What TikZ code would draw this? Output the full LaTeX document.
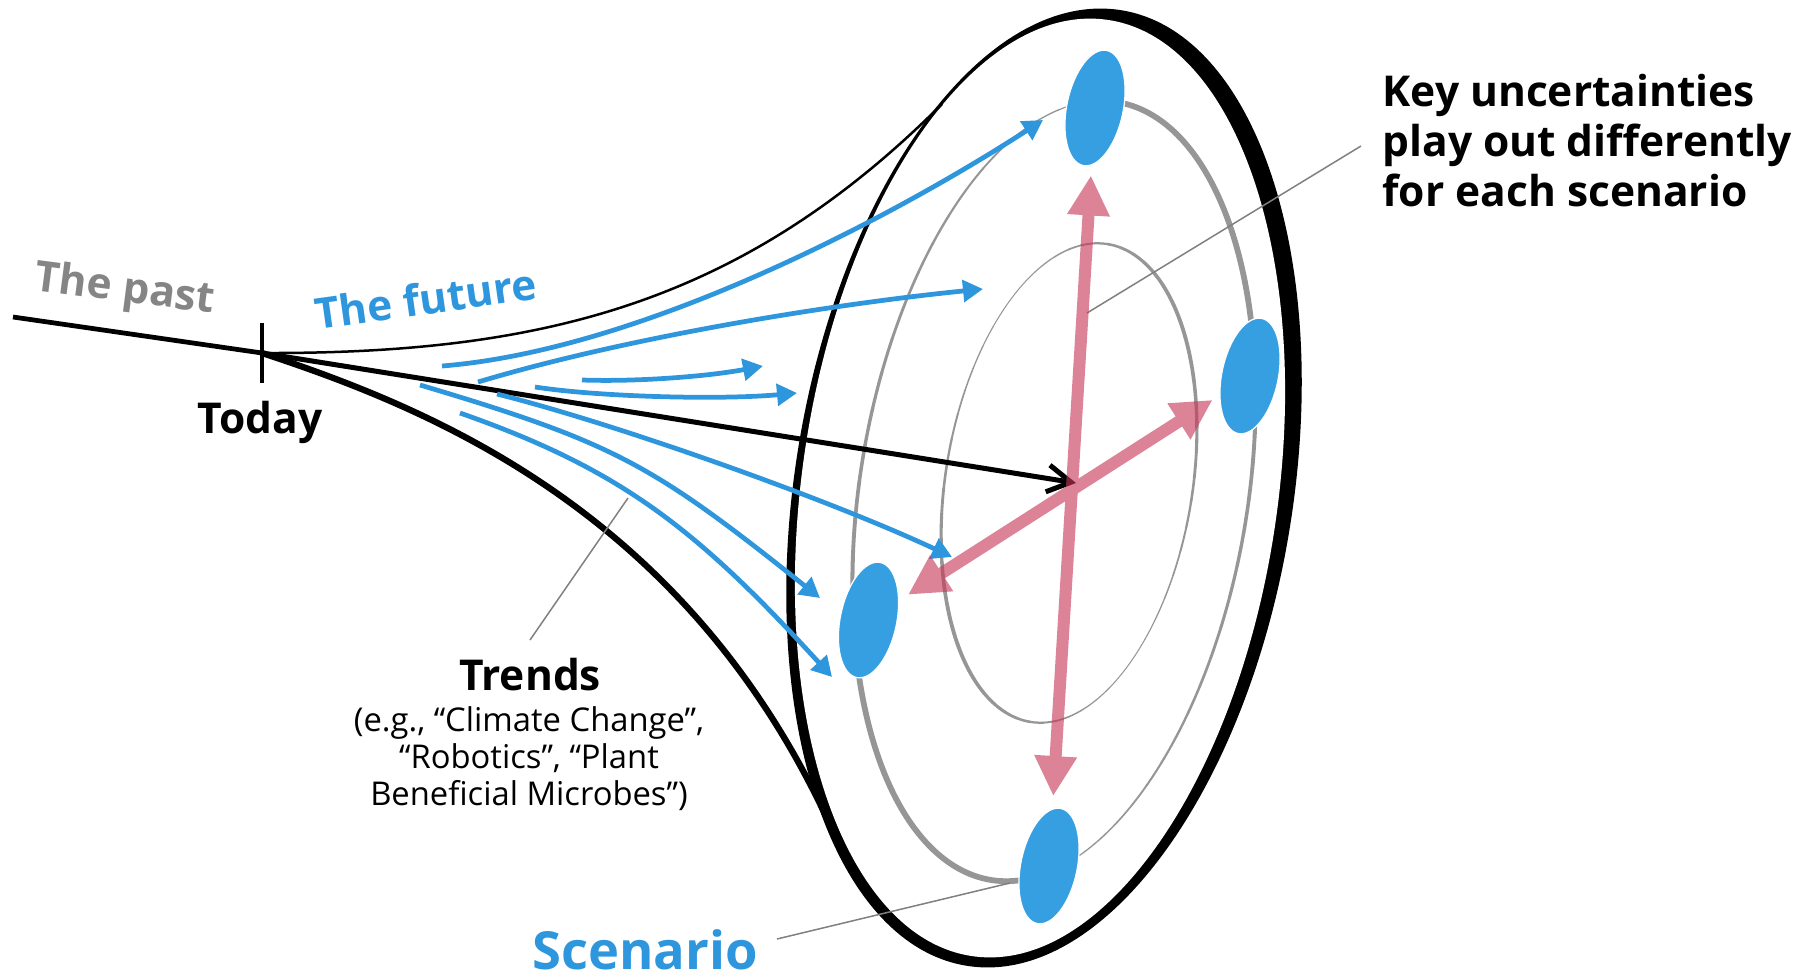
\documentclass[tikz,border=0pt]{standalone}
\usepackage{fontspec}
\setmainfont{Open Sans}
\usetikzlibrary{arrows.meta,shapes.geometric}
\definecolor{trendblue}{RGB}{46,150,221}
\definecolor{dotblue}{RGB}{53,159,226}
\definecolor{ringgray}{RGB}{150,150,150}
\definecolor{leadgray}{RGB}{128,128,128}
\definecolor{pastgray}{RGB}{133,133,133}
\definecolor{uncert}{RGB}{200,55,90}
\begin{document}
\begin{tikzpicture}[x=0.4pt, y=-0.4pt,
  trend/.style={trendblue, line width=1.9pt, -{Triangle[width=8.6pt,length=8pt]}},
  scen/.style={ellipse, fill=dotblue, draw=white, line width=0.5pt,
    minimum width=22.6pt, minimum height=47pt, inner sep=0pt, rotate=-11.6},
  uarrow/.style={uncert, line width=4.8pt,
    {Triangle[width=16pt,length=16pt]}-{Triangle[width=16pt,length=16pt]}},
  lead/.style={leadgray, line width=0.6pt},
  txt/.style={font=\bfseries\fontsize{17}{20}\selectfont, inner sep=0pt},
]
\useasboundingbox (0,0) rectangle (1800,980);

% outer rim: black ellipse with a slightly turned white ellipse inside
\begin{scope}[shift={(1044,488)}, rotate=-9.2]
  \fill (0,0) ellipse [x radius=249, y radius=484];
\end{scope}
\begin{scope}[shift={(1040,488)}, rotate=-8.2]
  \fill[white] (0,0) ellipse [x radius=238, y radius=473];
\end{scope}

% time line and the funnel of futures
\coordinate (past) at (13,317);
\coordinate (today) at (262,353);
\coordinate (rimUpper) at (942,104);
\coordinate (rimLower) at (835,836);
\draw[line width=1.9pt] (past) -- (today);
\draw[line width=1pt] (today) .. controls (542,354) and (742,304) .. (rimUpper);
\draw[line width=2.5pt] (today) .. controls (435,410) and (693,515) .. (rimLower);
\draw[line width=1.4pt] (262,323) -- (262,383);

% inner ring, stroke width varies around the ellipse
\begin{scope}[shift={(1069,483)}, rotate=-9.2, y=0.4pt]
  \foreach \t in {0,6,...,354}{
    \pgfmathsetmacro\e{\t+6}
    \pgfmathsetmacro\w{0.4*(2.4+1.4*sin(2*(\t+3)))}
    \draw[ringgray, line width=\w pt, line cap=round]
      (\t:123.5 and 242) arc[start angle=\t, end angle=\e, x radius=123.5, y radius=242];
  }
\end{scope}

% middle ring through the scenarios
\begin{scope}[shift={(1054,491)}, rotate=-9.2, y=0.4pt]
  \draw[ringgray, line width=2.3pt] (22:194 and 394)
    arc[start angle=22, end angle=96, x radius=194, y radius=394];
  \draw[ringgray, line width=2.3pt] (205:194 and 394)
    arc[start angle=205, end angle=287, x radius=194, y radius=394];
  \foreach \a/\b in {96/205, 287/382}{
    \foreach \i in {0,...,19}{
      \pgfmathsetmacro\s{\a+(\b-\a)*\i/20}
      \pgfmathsetmacro\e{\a+(\b-\a)*(\i+1)/20}
      \pgfmathsetmacro\w{0.4*(1+3.2*\i/19)}
      \draw[ringgray, line width=\w pt, line cap=round]
        (\s:194 and 394) arc[start angle=\s, end angle=\e, x radius=194, y radius=394];
    }
  }
\end{scope}

% leader lines
\coordinate (keyFrom) at (1087,313);
\coordinate (keyTo) at (1361,146);
\coordinate (trendFrom) at (628,498);
\coordinate (trendTo) at (530,640);
\coordinate (scenFrom) at (777,939);
\coordinate (scenTo) at (1010,883);
\draw[lead] (keyFrom) -- (keyTo);
\draw[lead] (trendFrom) -- (trendTo);
\draw[lead] (scenFrom) -- (scenTo);

% straight path into the centre
\coordinate (hub) at (1076,483);
\draw[line width=2pt, -{Straight Barb[length=9.4pt,width=10.8pt]}] (today) -- (hub);

% trends
\draw[trend] (442,366) .. controls (642,350) and (893,217) .. (1043,120);
\draw[trend] (478,382) .. controls (628,337) and (833,304) .. (983,289);
\draw[trend] (582,380) .. controls (640,382) and (710,376) .. (763,366);
\draw[trend] (535,387) .. controls (600,397) and (720,400) .. (797,393);
\draw[trend] (497,394) .. controls (620,425) and (830,500) .. (952,557);
\draw[trend] (420,385) .. controls (615,443) and (652,464) .. (820,598);
\draw[trend] (460,413) .. controls (620,469) and (696,528) .. (832,677);

% scenarios
\node[scen] (sTop) at (1095,108) {};
\node[scen] (sRight) at (1250,376) {};
\node[scen] (sLeft) at (868.5,620) {};
\node[scen] (sBottom) at (1049,866) {};

% key uncertainties
\begin{scope}[transparency group, opacity=0.62]
  \draw[uarrow, shorten <=4pt, shorten >=5pt] (sTop) -- (sBottom);
  \draw[uarrow, shorten <=4.2pt, shorten >=3.2pt] (sLeft) -- (sRight);
\end{scope}

% labels (multi-line nodes are anchored at the baseline of their last line)
\node[txt, pastgray, anchor=base west, rotate=-7.4] (pastLabel) at (33,290) {The past};
\node[txt, trendblue, anchor=base west, rotate=8] (futureLabel) at (317,330) {The future};
\node[txt, anchor=base] (todayLabel) at (260,433) {Today};
\node[txt, anchor=base] (trendsLabel) at (530,690) {Trends};
\node[font=\fontsize{13.1}{14.7}\selectfont, align=center, anchor=base, inner sep=0pt]
  (trendsNote) at (529,805) {(e.g., “Climate Change”,\\“Robotics”, “Plant\\Beneficial Microbes”)};
\node[txt, align=left, anchor=base west] (keyLabel) at (1382,206.7)
  {Key uncertainties\\play out differently\\for each scenario};
\node[font=\bfseries\fontsize{21}{25}\selectfont, trendblue, anchor=base, inner sep=0pt]
  (scenLabel) at (645,969) {Scenario};
\end{tikzpicture}
\end{document}
